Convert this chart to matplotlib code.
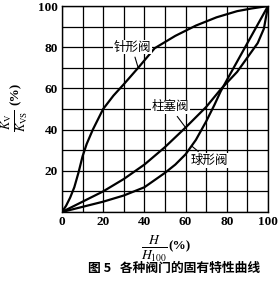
import matplotlib
matplotlib.use("Agg")
import matplotlib.pyplot as plt

plt.rcParams['mathtext.fontset'] = 'stix'

# Data
needle_x = [0, 2, 4, 6, 8, 10, 12, 15, 20, 25, 30, 37, 45, 55, 65, 75, 85, 92, 100]
needle_y = [0, 3, 7, 12, 19, 27, 33, 40, 50, 56.5, 62, 70, 79.5, 85.5, 90.5, 94.5, 97.5, 98.8, 100]

plunger_x = [0, 10, 20, 30, 40, 50, 60, 70, 77, 85, 90, 95, 98, 100]
plunger_y = [0, 5, 10, 16, 23, 31.5, 41, 51, 59.5, 68, 75, 82, 89, 100]

globe_x = [0, 10, 20, 30, 40, 50, 55, 60, 65, 70, 74, 77, 80, 85, 90, 95, 100]
globe_y = [0, 2.5, 5, 8, 12, 19, 23, 28, 35, 44, 52, 58.5, 64, 73, 82, 91, 100]

xticks = [0, 20, 40, 60, 80, 100]
yticks = [20, 40, 60, 80, 100]
label_needle = "针形阀"
label_plunger = "柱塞阀"
label_globe = "球形阀"
caption = "图 5   各种阀门的固有特性曲线"

fig = plt.figure(figsize=(2.79, 2.81), dpi=100)
ax = fig.add_axes([0.222, 0.2456, 0.7386, 0.733])

ax.set_xlim(0, 100)
ax.set_ylim(0, 100)
ax.set_xticks(range(0, 101, 10))
ax.set_yticks(range(0, 101, 10))
ax.grid(True, color='black', linewidth=0.9)
ax.set_axisbelow(True)
for s in ax.spines.values():
    s.set_linewidth(1.0)
ax.tick_params(length=0, pad=3)
ax.set_xticklabels([str(v) if v in xticks else '' for v in range(0, 101, 10)],
                   fontfamily='Liberation Serif', fontweight='bold', fontsize=9.5)
ax.set_yticklabels([str(v) if v in yticks else '' for v in range(0, 101, 10)],
                   fontfamily='Liberation Serif', fontweight='bold', fontsize=9.5)

lw = 1.6
ax.plot(needle_x, needle_y, color='black', lw=lw, solid_joinstyle='round')
ax.plot(plunger_x, plunger_y, color='black', lw=lw, solid_joinstyle='round')
ax.plot(globe_x, globe_y, color='black', lw=lw, solid_joinstyle='round')

cjk = ['Noto Sans CJK SC', 'DejaVu Sans']
bbox = dict(facecolor='white', edgecolor='none', pad=0.5)
ax.annotate(label_needle, xy=(37, 70), xytext=(34, 80), fontsize=9, family=cjk,
            ha='center', va='center', bbox=bbox,
            arrowprops=dict(arrowstyle='-', color='black', lw=0.8, shrinkA=2, shrinkB=0))
ax.annotate(label_plunger, xy=(60, 41), xytext=(52.5, 51), fontsize=9, family=cjk,
            ha='center', va='center', bbox=bbox,
            arrowprops=dict(arrowstyle='-', color='black', lw=0.8, shrinkA=2, shrinkB=0))
ax.annotate(label_globe, xy=(63, 32), xytext=(71.5, 25), fontsize=9, family=cjk,
            ha='center', va='center', bbox=bbox,
            arrowprops=dict(arrowstyle='-', color='black', lw=0.8, shrinkA=2, shrinkB=0))

fig.text(0.055, 0.57, r'$\frac{K_{\mathrm{V}}}{K_{\mathrm{VS}}}$', rotation=90,
         ha='center', va='center', fontsize=13)
fig.text(0.055, 0.665, '(%)', rotation=90, ha='center', va='center',
         fontsize=9.5, fontfamily='Liberation Serif', fontweight='bold')
fig.text(0.555, 0.115, r'$\frac{H}{H_{100}}$', ha='center', va='center',
         fontsize=14)
fig.text(0.645, 0.122, '(%)', ha='center', va='center',
         fontsize=9.5, fontfamily='Liberation Serif', fontweight='bold')
fig.text(0.625, 0.045, caption, ha='center', va='center', fontsize=9.2,
         family=cjk, fontweight='bold')

fig.savefig('out.png', dpi=100)
